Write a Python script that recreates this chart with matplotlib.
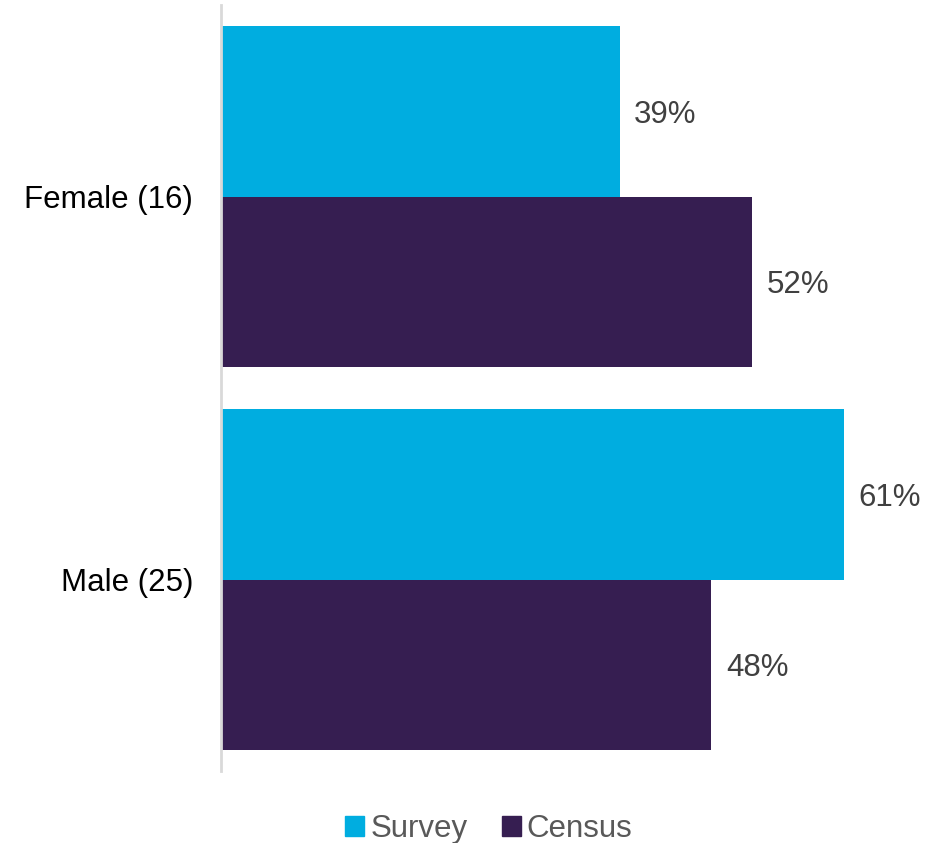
import matplotlib
matplotlib.use("Agg")
import matplotlib.pyplot as plt
from matplotlib.patches import Patch

# data
categories = ["Female (16)", "Male (25)"]
survey = [39, 61]
census = [52, 48]
series_names = ["Survey", "Census"]

survey_color = "#00ADE0"
census_color = "#361E51"

plt.rcParams["font.family"] = ["Liberation Sans", "DejaVu Sans"]

fig = plt.figure(figsize=(9.43, 8.43), dpi=100)
ax = fig.add_axes([221 / 943, 1 - 771 / 843, 714 / 943, 766 / 843])

ypos = [1, 0]
h = 0.445
ax.barh([y + h / 2 for y in ypos], survey, height=h, color=survey_color, left=0.08)
ax.barh([y - h / 2 for y in ypos], census, height=h, color=census_color, left=0.08)

for y, s, c in zip(ypos, survey, census):
    ax.text(s + 1.5, y + h / 2, f"{s}%", va="center_baseline", ha="left", fontsize=22.5, color="#404040")
    ax.text(c + 1.5, y - h / 2, f"{c}%", va="center_baseline", ha="left", fontsize=22.5, color="#404040")

ax.set_xlim(0, 70)
ax.set_ylim(-0.5, 1.5)
ax.set_yticks(ypos)
ax.set_yticklabels(categories, fontsize=22.5, color="black")
ax.tick_params(axis="y", length=0, pad=20)
ax.set_xticks([])
for side in ["top", "right", "bottom"]:
    ax.spines[side].set_visible(False)
ax.spines["left"].set_color("#D9D9D9")
ax.spines["left"].set_linewidth(2)

handles = [Patch(color=survey_color), Patch(color=census_color)]
fig.legend(handles, series_names, loc="center", bbox_to_anchor=(489 / 943, 1 - 829 / 843),
           ncol=2, frameon=False, fontsize=22.5, labelcolor="#595959",
           handlelength=0.6, handleheight=0.6, handletextpad=0.2, columnspacing=1.1)

fig.savefig("out.png", dpi=100)
